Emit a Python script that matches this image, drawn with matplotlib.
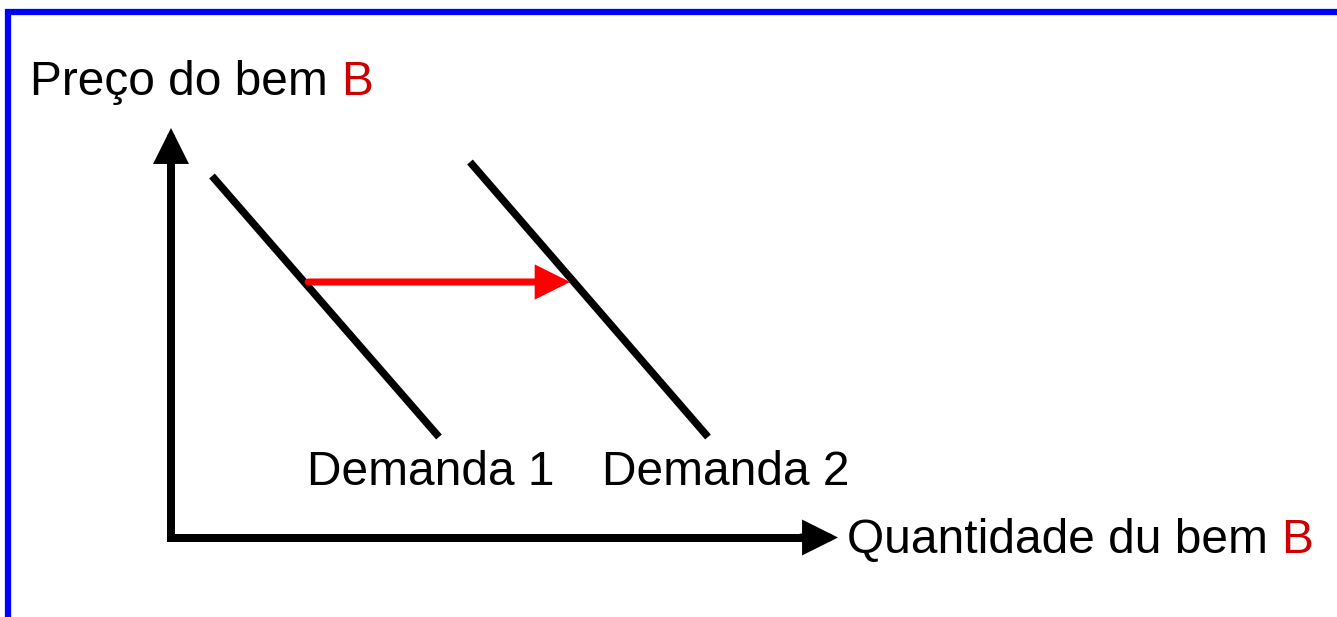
import matplotlib
matplotlib.use("Agg")
import matplotlib.pyplot as plt

# diagrama de deslocamento da demanda (coordenadas em pixels da figura)
W, H = 1337, 617

# curvas de demanda: (x0, y0, x1, y1)
demanda1 = [212, 176, 439, 437]
demanda2 = [470, 162, 708, 437]
rotulos_demanda = ["Demanda 1", "Demanda 2"]
pos_rotulos = [(307, 485), (602, 485)]

# eixos
origem = (171, 537.5)
topo_y = 128
fim_x = 838
ponta = 32  # comprimento da ponta

# seta de deslocamento
seta_ini = (308, 282)
seta_fim = (570, 282)

rotulo_y = "Preço do bem "
rotulo_x = "Quantidade du bem "

plt.rcParams['font.family'] = ['Liberation Sans', 'DejaVu Sans']

fig = plt.figure(figsize=(W / 100, H / 100), dpi=100)
ax = fig.add_axes([0, 0, 1, 1])
ax.set_xlim(0, W)
ax.set_ylim(H, 0)
ax.axis("off")

# moldura azul (só topo e lado esquerdo)
ax.plot([8, 8, W], [H, 12, 12], color="#0000ff", lw=4.5, solid_joinstyle="miter")

px = 72 / 100
# haste dos eixos em L
ax.plot([origem[0], origem[0], fim_x - ponta + 2], [topo_y + ponta - 2, origem[1], origem[1]],
        color="black", lw=8 * px, solid_joinstyle="miter", solid_capstyle="butt")

# pontas dos eixos
estilo_eixo = "-|>,head_length=%f,head_width=%f" % (23 * px, 11.5 * px)
ax.annotate("", xy=(origem[0], topo_y), xytext=(origem[0], topo_y + ponta + 5),
            arrowprops=dict(arrowstyle=estilo_eixo, mutation_scale=1,
                            lw=8 * px, color="black", shrinkA=0, shrinkB=0, joinstyle="miter"))
ax.annotate("", xy=(fim_x, origem[1]), xytext=(fim_x - ponta - 5, origem[1]),
            arrowprops=dict(arrowstyle=estilo_eixo, mutation_scale=1,
                            lw=8 * px, color="black", shrinkA=0, shrinkB=0, joinstyle="miter"))

# curvas de demanda
for d in [demanda1, demanda2]:
    ax.plot([d[0], d[2]], [d[1], d[3]], color="black", lw=7.5 * px, solid_capstyle="butt")

# seta vermelha
ax.annotate("", xy=seta_fim, xytext=seta_ini,
            arrowprops=dict(arrowstyle="-|>,head_length=%f,head_width=%f" % (24 * px, 12 * px),
                            mutation_scale=1,
                            lw=7 * px, color="#ff0000", shrinkA=0, shrinkB=0, joinstyle="miter"))

fs = 34.5
for r, (x, y) in zip(rotulos_demanda, pos_rotulos):
    ax.text(x, y, r, fontsize=fs, va="baseline", ha="left")

t1 = ax.text(30, 95, rotulo_y, fontsize=fs, va="baseline", ha="left")
t2 = ax.text(847, 553, rotulo_x, fontsize=fs, va="baseline", ha="left")

fig.canvas.draw()
inv = ax.transData.inverted()
for t, y in [(t1, 95), (t2, 553)]:
    bb = t.get_window_extent()
    xb = inv.transform((bb.x1, bb.y0))[0]
    ax.text(xb, y, "B", fontsize=fs, va="baseline", ha="left", color="#cc0000")

fig.savefig("out.png", dpi=100)
